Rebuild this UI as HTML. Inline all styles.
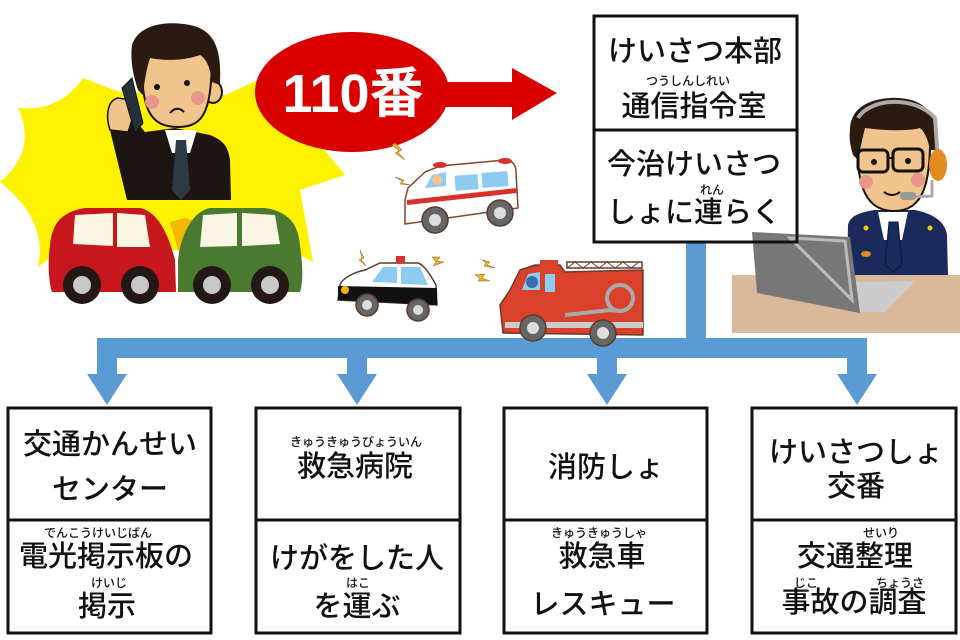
<!DOCTYPE html>
<html><head><meta charset="utf-8"><style>
html,body{margin:0;padding:0;background:#fff;}
svg{display:block;}
.t{font-family:"Liberation Sans","Noto Sans CJK JP",sans-serif;fill:#111;text-anchor:middle;dominant-baseline:central;font-weight:500;}
.m{font-size:29px;}
.r{font-size:12px;}
</style></head><body>
<svg width="960" height="640" viewBox="0 0 960 640" xmlns="http://www.w3.org/2000/svg">
<!-- yellow burst -->
<path d="M18,108 Q60,112 83,78 L120,92 L225,95 L258,80 L300,120 L345,175 L300,190 L313,262 L290,250 L60,250 L38,267 Q48,220 0,182 Q38,150 18,108 Z" fill="#fff200"/>
<!-- 110 arrow -->
<rect x="430" y="82" width="86" height="25" fill="#d90000"/>
<polygon points="512,68 557,93 512,120" fill="#d90000"/>
<ellipse cx="352" cy="92" rx="97" ry="60" fill="#d90000"/>
<text x="353" y="94" class="t" style="font-size:54px;font-weight:bold;fill:#fff">110番</text>
<!-- man -->
<path d="M110,130 L127,200 L231,200 L230,160 C228,145 222,140 210,135 L175,128 L145,132 L135,120 Z" fill="#1c1513"/>
<path d="M110,130 C105,115 108,100 118,98 L130,100 L132,120 L128,132 Z" fill="#f2c48d" stroke="#1c1513" stroke-width="1.5"/>
<polygon points="165,130 197,130 190,153 172,153" fill="#fff"/>
<polygon points="176,140 186,140 190,190 181,200 172,190" fill="#2e3b45"/>
<ellipse cx="213" cy="92" rx="9" ry="11" fill="#f2c48d" stroke="#1c1513" stroke-width="2"/>
<path d="M142,50 C140,110 150,127 178,127 C205,127 212,110 212,50 Z" fill="#f2c48d" stroke="#1c1513" stroke-width="2"/>
<path d="M132,45 C138,25 165,20 190,25 C215,30 222,50 220,85 L212,82 C210,65 205,58 200,55 C180,62 160,60 150,58 C146,70 144,85 143,95 L138,90 C133,75 130,60 132,45 Z" fill="#2b1a10"/>
<circle cx="157" cy="87" r="3" fill="#111"/><circle cx="187" cy="83" r="3" fill="#111"/>
<circle cx="152" cy="102" r="7" fill="#e8978a"/><circle cx="198" cy="98" r="7" fill="#e8978a"/>
<path d="M170,113 Q177,105 184,112" stroke="#111" stroke-width="2" fill="none"/>
<polygon points="122,88 132,78 143,123 135,133" fill="#243238" stroke="#111" stroke-width="1"/>
<!-- cars -->
<path d="M50,245 C52,225 60,212 85,208 L140,208 C160,212 170,240 175,260 L176,292 L52,292 C48,280 48,260 50,245 Z" fill="#c8161d"/>
<polygon points="75,215 113,213 113,246 73,244" fill="#faf6e4"/>
<polygon points="117,213 145,215 150,247 117,247" fill="#faf6e4"/>
<polygon points="170,222 185,218 200,222 192,235 195,255 178,250" fill="#f5b800"/>
<path d="M300,245 C298,225 290,212 265,208 L210,208 C190,212 180,240 178,260 L178,292 L300,292 C304,280 302,260 300,245 Z" fill="#4a7a2f"/>
<polygon points="203,215 237,213 237,246 200,247" fill="#faf6e4"/>
<polygon points="242,213 275,215 280,244 242,246" fill="#faf6e4"/>
<g fill="#231815"><circle cx="82" cy="285" r="19"/><circle cx="140" cy="285" r="19"/><circle cx="212" cy="285" r="19"/><circle cx="270" cy="285" r="19"/></g>
<g fill="#c8c8c8"><circle cx="82" cy="285" r="9"/><circle cx="140" cy="285" r="9"/><circle cx="212" cy="285" r="9"/><circle cx="270" cy="285" r="9"/></g>
<!-- ambulance -->
<path d="M405,200 L408,188 L425,172 L440,166 L505,160 C513,160 516,166 516,172 L518,208 L405,224 Z" fill="#fff" stroke="#7a4a2a" stroke-width="1.5"/>
<polygon points="407,200 517,188 517,193 407,205" fill="#d9302b"/>
<rect x="455" y="175" width="23" height="15" fill="#8ecbf0" transform="rotate(-4 466 182)"/>
<rect x="482" y="172" width="26" height="15" fill="#8ecbf0" transform="rotate(-4 495 180)"/>
<polygon points="425,188 432,175 446,172 446,186" fill="#8ecbf0"/>
<circle cx="437" cy="180" r="5" fill="#f2c48d"/>
<ellipse cx="440" cy="165" rx="7" ry="3" fill="#d9302b"/><ellipse cx="505" cy="161" rx="7" ry="3" fill="#d9302b"/>
<circle cx="435" cy="220" r="13" fill="#666" stroke="#5a3a2a" stroke-width="1.5"/><circle cx="435" cy="220" r="6" fill="#ddd"/>
<circle cx="500" cy="213" r="13" fill="#666" stroke="#5a3a2a" stroke-width="1.5"/><circle cx="500" cy="213" r="6" fill="#ddd"/>
<!-- police car -->
<path d="M340,285 C342,278 355,272 365,270 L380,263 L418,263 C425,265 432,278 436,285 L437,305 L338,300 Z" fill="#fff" stroke="#5a3a2a" stroke-width="1.5"/>
<polygon points="338,286 437,288 437,305 338,300" fill="#111"/>
<polygon points="372,282 383,267 397,267 397,283" fill="#8ecbf0"/>
<polygon points="401,267 420,267 428,285 401,284" fill="#8ecbf0"/>
<rect x="396" y="256" width="9" height="7" fill="#d9302b"/>
<circle cx="345" cy="290" r="4" fill="#f5b800"/>
<circle cx="367" cy="305" r="11" fill="#666" stroke="#5a3a2a" stroke-width="1.5"/><circle cx="367" cy="305" r="5" fill="#ddd"/>
<circle cx="418" cy="310" r="11" fill="#666" stroke="#5a3a2a" stroke-width="1.5"/><circle cx="418" cy="310" r="5" fill="#ddd"/>
<!-- lightning -->
<g fill="#f0b020" stroke="#8a5a20" stroke-width="0.5">
<polygon points="395,143 402,150 398,152 405,160 395,153 399,151 392,145"/>
<polygon points="395,177 404,180 402,183 410,185 400,184 402,181"/>
<polygon points="360,250 364,258 361,259 366,266 359,260 362,258"/>
<polygon points="432,257 440,257 437,261 444,262 433,266 436,262"/>
<polygon points="482,260 490,262 487,265 495,268 484,266 486,263"/>
<polygon points="475,275 485,274 482,278 490,281 478,281 480,278"/>
</g>
<!-- central stem & connectors -->
<path d="M686,242 L706,242 L706,338 L867,338 L867,374 L877,374 L857,405 L837,374 L847,374 L847,358 L617,358 L617,374 L627,374 L607,405 L587,374 L597,374 L597,358 L367,358 L367,374 L377,374 L357,405 L337,374 L347,374 L347,358 L117,358 L117,374 L127,374 L107,405 L87,374 L97,374 L97,338 L686,338 Z" fill="#5b9bd5"/>
<!-- fire truck -->
<rect x="567" y="262" width="75" height="6" fill="#fff" stroke="#6a3a2a" stroke-width="1.5"/>
<path d="M567,268 L575,262 L583,268 L591,262 L599,268 L607,262 L615,268 L623,262 L631,268 L639,262" stroke="#6a3a2a" stroke-width="1" fill="none"/>
<path d="M510,290 L520,270 L535,265 L560,265 L565,272 L643,270 L643,335 L503,333 L500,305 Z" fill="#d9412b" stroke="#6a3a2a" stroke-width="1.5"/>
<rect x="540" y="260" width="18" height="8" fill="#d9412b"/>
<polygon points="522,290 528,274 540,272 540,290" fill="#8ecbf0"/>
<circle cx="532" cy="282" r="6" fill="#3a6ab0"/>
<rect x="545" y="274" width="10" height="18" fill="#8ecbf0"/>
<circle cx="620" cy="298" r="13" fill="none" stroke="#aaa" stroke-width="4"/>
<path d="M565,315 L610,310 L620,311" stroke="#aaa" stroke-width="4" fill="none"/>
<rect x="505" y="322" width="138" height="6" fill="#ccc"/>
<circle cx="533" cy="328" r="13" fill="#666" stroke="#5a3a2a" stroke-width="1.5"/><circle cx="533" cy="328" r="6" fill="#ddd"/>
<circle cx="603" cy="333" r="13" fill="#666" stroke="#5a3a2a" stroke-width="1.5"/><circle cx="603" cy="333" r="6" fill="#ddd"/>
<!-- officer -->
<path d="M847,275 L848,225 C850,215 862,212 875,210 L915,210 C930,213 945,220 947,235 L948,275 Z" fill="#1b2a5c"/>
<polygon points="878,212 908,212 902,240 884,240" fill="#fff"/>
<polygon points="889,222 898,222 902,265 893,272 885,265" fill="#1b2a5c" stroke="#0e1738" stroke-width="1"/>
<circle cx="866" cy="228" r="2.5" fill="#f5c800"/><circle cx="930" cy="228" r="2.5" fill="#f5c800"/>
<ellipse cx="866" cy="254" rx="5" ry="3" fill="#e38a20"/>
<path d="M857,118 C855,180 862,210 893,211 C924,211 932,185 930,118 Z" fill="#f2c48d" stroke="#1c1513" stroke-width="2"/>
<path d="M850,130 C850,105 875,97 898,98 C925,99 940,115 937,150 L930,150 C928,140 925,132 920,128 C905,132 880,130 865,128 C862,140 860,150 858,160 L853,155 C850,145 849,138 850,130 Z" fill="#2b1a10"/>
<path d="M858,118 C870,98 915,95 935,118 L938,160" stroke="#aaa" stroke-width="4" fill="none"/>
<rect x="858" y="150" width="30" height="22" rx="5" fill="none" stroke="#111" stroke-width="3"/>
<rect x="893" y="149" width="30" height="22" rx="5" fill="none" stroke="#111" stroke-width="3"/>
<line x1="887" y1="158" x2="894" y2="158" stroke="#111" stroke-width="2"/>
<circle cx="874" cy="162" r="3" fill="#111"/><circle cx="908" cy="161" r="3" fill="#111"/>
<circle cx="866" cy="182" r="7" fill="#e8978a"/><circle cx="918" cy="180" r="7" fill="#e8978a"/>
<path d="M884,192 Q892,198 900,192" stroke="#111" stroke-width="2" fill="none"/>
<ellipse cx="938" cy="165" rx="9" ry="16" fill="#e38a20"/>
<path d="M932,180 L932,196 L912,197" stroke="#aaa" stroke-width="3" fill="none"/>
<rect x="900" y="192" width="16" height="8" rx="4" fill="#999"/>
<!-- desk & laptop -->
<rect x="732" y="275" width="228" height="58" fill="#d9b99a"/>
<polygon points="855,282 915,281 885,312 858,312" fill="#ccc"/>
<polygon points="752,232 850,237 860,313 757,293" fill="#777"/>
<polygon points="790,238 845,241 852,300" fill="none" stroke="#bbb" stroke-width="3"/>
<!-- boxes -->
<g fill="none" stroke="#111" stroke-width="3">
<rect x="594" y="16" width="203" height="226"/><line x1="594" y1="130" x2="797" y2="130"/>
<rect x="8" y="408" width="203" height="225"/><line x1="8" y1="520" x2="211" y2="520"/>
<rect x="256" y="408" width="204" height="225"/><line x1="256" y1="520" x2="460" y2="520"/>
<rect x="504" y="408" width="203" height="225"/><line x1="504" y1="520" x2="707" y2="520"/>
<rect x="752" y="408" width="204" height="225"/><line x1="752" y1="520" x2="956" y2="520"/>
</g>
<!-- texts -->
<text class="t m" x="695" y="52">けいさつ本部</text>
<text class="t r" x="688" y="81">つうしんしれい</text>
<text class="t m" x="694" y="107">通信指令室</text>
<text class="t m" x="694" y="165">今治けいさつ</text>
<text class="t r" x="712" y="190">れん</text>
<text class="t m" x="694" y="213">しょに連らく</text>

<text class="t m" x="110" y="445">交通かんせい</text>
<text class="t m" x="110" y="490">センター</text>
<text class="t r" x="98" y="533">でんこうけいじばん</text>
<text class="t m" x="106" y="557">電光掲示板の</text>
<text class="t r" x="109" y="583">けいじ</text>
<text class="t m" x="107" y="607">掲示</text>

<text class="t r" x="356" y="442">きゅうきゅうびょういん</text>
<text class="t m" x="355" y="467">救急病院</text>
<text class="t m" x="357" y="559">けがをした人</text>
<text class="t r" x="358" y="583">はこ</text>
<text class="t m" x="357" y="607">を運ぶ</text>

<text class="t m" x="606" y="468">消防しょ</text>
<text class="t r" x="599" y="533">きゅうきゅうしゃ</text>
<text class="t m" x="602" y="557">救急車</text>
<text class="t m" x="603" y="605">レスキュー</text>

<text class="t m" x="856" y="453">けいさつしょ</text>
<text class="t m" x="856" y="487">交番</text>
<text class="t r" x="881" y="533">せいり</text>
<text class="t m" x="855" y="557">交通整理</text>
<text class="t r" x="806" y="583">じこ</text>
<text class="t r" x="900" y="583">ちょうさ</text>
<text class="t m" x="854" y="603">事故の調査</text>
</svg>
</body></html>
